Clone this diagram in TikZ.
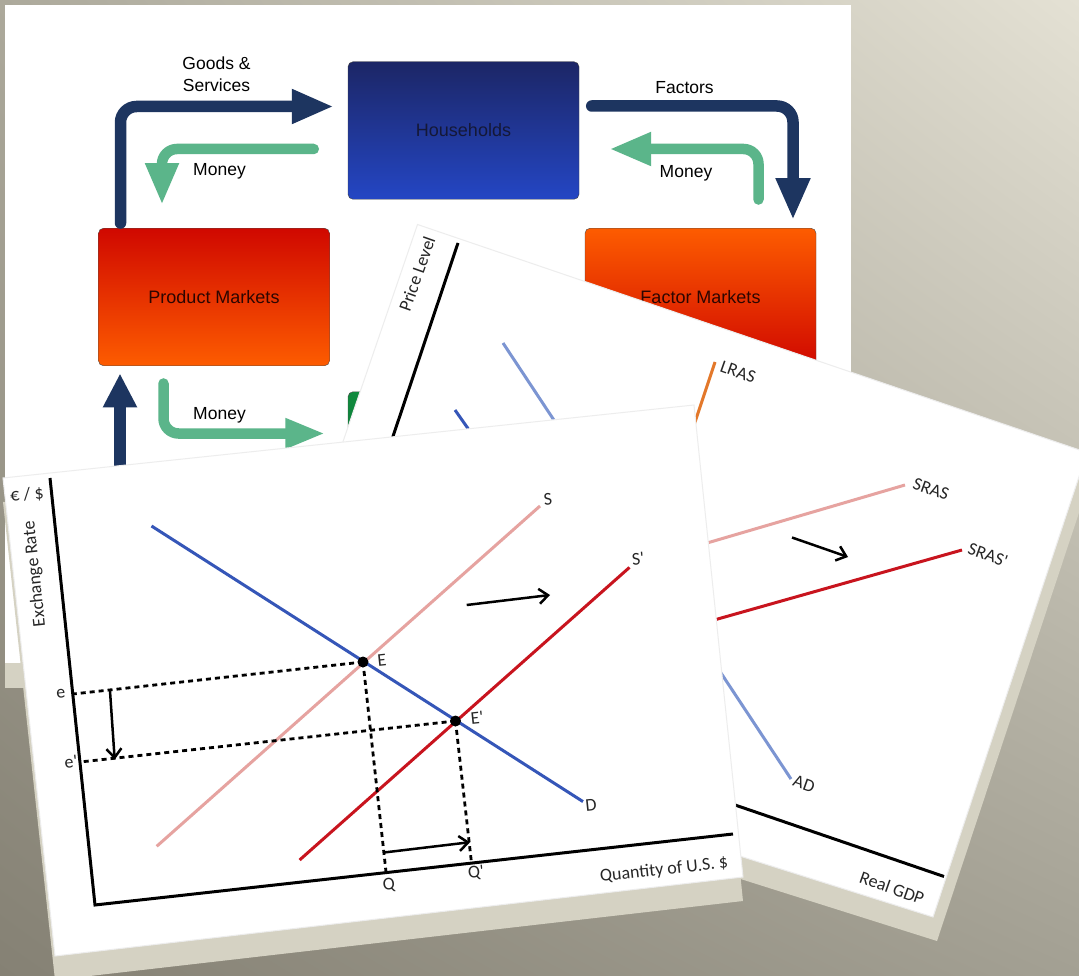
\documentclass[tikz,border=0pt]{standalone}
\usepackage{fontspec}
\setmainfont{Liberation Sans}
\newfontfamily\chartfont{Carlito}
\usepackage{tikz}
\usetikzlibrary{arrows.meta,shadings}

\definecolor{navyflow}{HTML}{1D3560}
\definecolor{greenflow}{HTML}{5BB58A}
\definecolor{slab}{HTML}{D5D2C3}
\definecolor{dblue}{HTML}{3556B8}
\definecolor{lblue}{HTML}{7C95D2}
\definecolor{pales}{HTML}{E6A3A0}
\definecolor{reds}{HTML}{C8141E}
\definecolor{lras}{HTML}{E3782A}
\definecolor{bgtl}{HTML}{ACA99B}
\definecolor{bgtr}{HTML}{E4E1D4}
\definecolor{bgbl}{HTML}{858174}
\definecolor{bgbr}{HTML}{A3A093}
\definecolor{hhtop}{HTML}{1C2666}
\definecolor{hhbot}{HTML}{2446C4}
\definecolor{hhtext}{HTML}{141837}
\definecolor{redtop}{HTML}{D00800}
\definecolor{orangebot}{HTML}{FD5C00}
\definecolor{mktext}{HTML}{2D0600}
\definecolor{govtop}{HTML}{108A3E}
\definecolor{govbot}{HTML}{0A6E30}

\begin{document}
\begin{tikzpicture}[x=1pt,y=-1pt,
  flowbox/.style={rounded corners=5pt,minimum width=231pt,minimum height=137.5pt,inner sep=0pt,
    font=\fontsize{18}{21}\selectfont},
  flowlbl/.style={font=\fontsize{17.5}{21.7}\selectfont,align=center,inner sep=0pt},
  navyarr/.style={draw=navyflow,line width=11.5pt,line cap=round,rounded corners=16pt,
    -{Triangle[length=42pt,width=32pt]}},
  greenarr/.style={draw=greenflow,line width=10.5pt,line cap=round,rounded corners=15pt,
    -{Triangle[length=42pt,width=31pt]}},
  sheet/.style={fill=white,draw=black!7,line width=1pt},
  chartline/.style={line width=3pt},
  dashguide/.style={line width=2.8pt,dash pattern=on 5pt off 4pt},
  barbarr/.style={line width=2.5pt,-{Straight Barb[length=9pt,width=15pt]}},
  chartlbl/.style={font=\chartfont\fontsize{18}{20}\selectfont,text=black!85,inner sep=0pt}]
\useasboundingbox (0,0) rectangle (1079,976);
\shade[upper left=bgtl,upper right=bgtr,lower left=bgbl,lower right=bgbr]
  (0,0) rectangle (1079,976);

% circular flow sheet
\fill[slab] (5,30) rectangle (851,688);
\fill[white] (5,5) rectangle (851,663);
\node[flowbox,draw=black!75,top color=hhtop,bottom color=hhbot,text=hhtext] (hh) at (463.5,130.5) {Households};
\node[flowbox,draw=black!70,top color=redtop,bottom color=orangebot,text=mktext] (pm) at (214,297) {Product Markets};
\node[flowbox,draw=black!70,top color=orangebot,bottom color=redtop,text=mktext] (fm) at (700.5,297) {Factor Markets};
\node[flowbox,draw=black!70,top color=govtop,bottom color=govbot] (gov) at (463.5,460.5) {};

\draw[navyarr] ([xshift=-93.5pt,yshift=5pt]pm.north) |- ([xshift=-14pt,yshift=24pt]hh.west);
\draw[greenarr] ([xshift=-34pt,yshift=-18.5pt]hh.west) -| ([xshift=-52pt,yshift=23pt]pm.north);
\draw[navyarr] ([xshift=12.5pt,yshift=24.5pt]hh.east) -| ([xshift=92.5pt,yshift=8pt]fm.north);
\draw[greenarr] ([xshift=58pt,yshift=28.5pt]fm.north) |- ([xshift=30pt,yshift=-18.5pt]hh.east);
\draw[greenarr,-{Triangle[length=40pt,width=28pt]}] ([xshift=-50.5pt,yshift=-17.5pt]pm.south) |- ([xshift=-22.5pt,yshift=27pt]gov.west);
\coordinate (upstart) at (120,475);
\draw[navyarr,-{Triangle[length=34pt,width=32pt]}] (upstart) -- ([xshift=-94pt,yshift=-7.5pt]pm.south);

\node[flowlbl] (goodslbl) at (216.5,74) {Goods \&\\Services};
\node[flowlbl] (moneyl) at (219.5,171.5) {Money};
\node[flowlbl] (factorslbl) at (684.5,87.5) {Factors};
\node[flowlbl] (moneyr) at (686,173.5) {Money};
\node[flowlbl] (moneyb) at (219.5,415) {Money};

% AS-AD sheet
\fill[slab] (421.5,248.5) -- (1091,476.5) -- (937,941) -- (257.5,726.5) -- cycle;
\filldraw[sheet] (417.5,224.5) -- (1087,452.5) -- (933,917) -- (253.5,702.5) -- cycle;
\draw[chartline] (458,243) -- (380,475);
\draw[chartline] (700,793) -- (944,876.5);
\draw[chartline,dblue] (455,410) -- (481,447);
\draw[chartline,lblue] (503,343) -- (791,779);
\draw[chartline,lras] (715,362) -- (690,437);
\draw[chartline,pales] (690,548) -- (905,485);
\draw[chartline,reds] (700,624) -- (962,550);
\draw[barbarr] (792,537.5) -- (848,557);
\node[chartlbl,rotate=70.5] (plevel) at (417,274) {Price Level};
\node[chartlbl,rotate=-19.5] (lraslbl) at (738,372) {LRAS};
\node[chartlbl,rotate=-19.5] (sraslbl) at (931,489) {SRAS};
\node[chartlbl,rotate=-19.5] (sras2lbl) at (988,555) {SRAS'};
\node[chartlbl,rotate=-19.5] (adlbl) at (804,784) {AD};
\node[chartlbl,rotate=-19.5] (gdplbl) at (892,888) {Real GDP};

% exchange rate sheet
\fill[slab] (3,502) -- (694,429) -- (743,901) -- (55,980) -- cycle;
\filldraw[sheet] (3,478) -- (694,405) -- (743,877) -- (55,956) -- cycle;
\draw[chartline] (50,478) -- (95,905) -- (733,834);
\draw[chartline,dblue] (151.5,526) -- (583,801.6);
\draw[chartline,pales] (156.7,846.3) -- (540,506);
\draw[chartline,reds] (299.6,860) -- (629.5,567.4);
\coordinate (E) at (363,662);
\coordinate (E2) at (455.5,721);
\draw[dashguide] (E) -- (73,694);
\draw[dashguide] (E2) -- (80,762);
\draw[dashguide] (E) -- (386,872);
\draw[dashguide] (E2) -- (471.5,863);
\fill (E) circle (5.5);
\fill (E2) circle (5.5);
\draw[barbarr] (110,691) -- (114.7,759.6);
\draw[barbarr] (384,852.5) -- (470,842.2);
\draw[barbarr] (466.7,605) -- (550,595);
\node[chartlbl,rotate=6] (eurlbl) at (27,495) {€ / \$};
\node[chartlbl,rotate=96] (xratelbl) at (35,574) {Exchange Rate};
\node[chartlbl,rotate=6] (slbl) at (548,499) {S};
\node[chartlbl,rotate=6] (s2lbl) at (638,559) {S'};
\node[chartlbl,rotate=6] (dlbl) at (591,805) {D};
\node[chartlbl,rotate=6] (elbl) at (382,660) {E};
\node[chartlbl,rotate=6] (e2lbl) at (477,718) {E'};
\node[chartlbl,rotate=6] (elowlbl) at (61,694) {e};
\node[chartlbl,rotate=6] (elow2lbl) at (71,762) {e'};
\node[chartlbl,rotate=6] (qlbl) at (389,885) {Q};
\node[chartlbl,rotate=6] (q2lbl) at (476,873) {Q'};
\node[chartlbl,rotate=6] (qtylbl) at (664,870) {Quantity of U.S. \$};
\end{tikzpicture}
\end{document}
